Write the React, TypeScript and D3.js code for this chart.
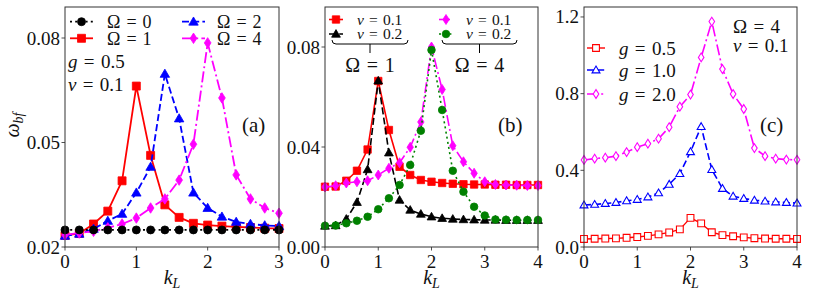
import React, { useRef, useEffect } from "react";
import * as d3 from "d3";

// ---- data ----
const kA = [0, 0.2, 0.4, 0.6, 0.8, 1.0, 1.2, 1.4, 1.6, 1.8, 2.0, 2.2, 2.4, 2.6, 2.8, 3.0];
const kBC = [0, 0.2, 0.4, 0.6, 0.8, 1.0, 1.2, 1.4, 1.6, 1.8, 2.0, 2.2, 2.4, 2.6, 2.8, 3.0, 3.2, 3.4, 3.6, 3.8, 4.0];

// panel (a): g = 0.5, v = 0.1
const omega0A = [0.0249, 0.0249, 0.0249, 0.0249, 0.0249, 0.0249, 0.0249, 0.0249, 0.0249, 0.0249, 0.0249, 0.0249, 0.0249, 0.0249, 0.0249, 0.0249];
const omega1A = [0.0233, 0.0239, 0.0266, 0.0303, 0.039, 0.0662, 0.0463, 0.0321, 0.0285, 0.0268, 0.0263, 0.026, 0.0258, 0.0256, 0.0254, 0.0253];
const omega2A = [0.0232, 0.0238, 0.0252, 0.0275, 0.0295, 0.0356, 0.043, 0.0697, 0.0569, 0.0356, 0.0312, 0.0287, 0.0272, 0.0266, 0.0262, 0.026];
const omega4A = [0.0235, 0.024, 0.0245, 0.0255, 0.0266, 0.0283, 0.0312, 0.0338, 0.0392, 0.0495, 0.0786, 0.0628, 0.0407, 0.0338, 0.0312, 0.0297];

// panel (b)
const om1v01B = [0.0241, 0.0242, 0.0265, 0.0305, 0.039, 0.0664, 0.0468, 0.0321, 0.0288, 0.0268, 0.0261, 0.0256, 0.0253, 0.0251, 0.025, 0.025, 0.0249, 0.0249, 0.0248, 0.0248, 0.0248];
const om1v02B = [0.0084, 0.0086, 0.0112, 0.0179, 0.031, 0.0665, 0.0377, 0.0188, 0.0148, 0.0132, 0.0121, 0.0115, 0.0112, 0.011, 0.0109, 0.0108, 0.0108, 0.0107, 0.0107, 0.0107, 0.0107];
const om4v01B = [0.024, 0.0245, 0.0256, 0.0261, 0.0265, 0.0288, 0.0315, 0.0337, 0.0399, 0.05, 0.08, 0.063, 0.0405, 0.0341, 0.0295, 0.0261, 0.025, 0.0248, 0.0247, 0.0246, 0.0246];
const om4v02B = [0.0085, 0.0086, 0.0095, 0.0105, 0.0121, 0.0151, 0.0195, 0.0248, 0.0328, 0.0465, 0.0788, 0.0548, 0.0305, 0.0221, 0.0161, 0.0126, 0.011, 0.0109, 0.0108, 0.0108, 0.0108];

// panel (c): Omega = 4, v = 0.1
const g05C = [0.042, 0.043, 0.044, 0.045, 0.048, 0.052, 0.058, 0.066, 0.076, 0.092, 0.152, 0.123, 0.077, 0.062, 0.056, 0.05, 0.046, 0.044, 0.043, 0.043, 0.042];
const g10C = [0.219, 0.222, 0.227, 0.232, 0.241, 0.248, 0.261, 0.282, 0.327, 0.383, 0.497, 0.628, 0.404, 0.305, 0.265, 0.253, 0.244, 0.239, 0.235, 0.232, 0.229];
const g20C = [0.454, 0.461, 0.466, 0.474, 0.495, 0.521, 0.539, 0.565, 0.625, 0.732, 0.795, 0.989, 1.176, 0.928, 0.798, 0.72, 0.516, 0.474, 0.461, 0.456, 0.455];

const ticksA = [0.02, 0.05, 0.08];
const ticksB = [0.0, 0.04, 0.08];
const ticksC = [0.0, 0.4, 0.8, 1.2];

const FONT = "'Liberation Serif', 'DejaVu Serif', serif";
const DASHED = "7,3.2";
const DASHDOT = "11,3.2,2,3.2";
const DOTTED = "2,3.2";

function markerPath(shape, s) {
  if (shape === "circle") return d3.symbol().type(d3.symbolCircle).size(Math.PI * s * s)();
  if (shape === "square") return `M${-s},${-s}h${2 * s}v${2 * s}h${-2 * s}Z`;
  if (shape === "triangle") return `M0,${-s * 1.1}L${s * 1.1},${s * 0.8}L${-s * 1.1},${s * 0.8}Z`;
  // thin diamond
  return `M0,${-s * 1.25}L${s * 0.8},0L0,${s * 1.25}L${-s * 0.8},0Z`;
}

function mathText(parent, x, y, parts, size, anchor = "start") {
  const t = parent
    .append("text")
    .attr("x", x)
    .attr("y", y)
    .attr("font-family", FONT)
    .attr("font-size", size)
    .attr("text-anchor", anchor)
    .attr("fill", "#111");
  let down = false;
  parts.forEach((p) => {
    const ts = t.append("tspan").text(p.t);
    if (p.it) ts.attr("font-style", "italic");
    if (p.sub) {
      ts.attr("font-size", size * 0.7);
      if (!down) ts.attr("dy", size * 0.18);
      down = true;
    } else if (down) {
      ts.attr("dy", -size * 0.18);
      down = false;
    }
  });
  return t;
}

const eq = (name, italic, val) => [
  { t: name, it: italic },
  { t: "\u2004=\u2004" },
  { t: val },
];

function drawPanel(svg, box, xDomain, yDomain, xTicks, yTicks, yFmt) {
  const x = d3.scaleLinear().domain(xDomain).range([box.left, box.right]);
  const y = d3.scaleLinear().domain(yDomain).range([box.bottom, box.top]);
  const g = svg.append("g");

  g.append("rect")
    .attr("x", box.left)
    .attr("y", box.top)
    .attr("width", box.right - box.left)
    .attr("height", box.bottom - box.top)
    .attr("fill", "white")
    .attr("stroke", "none");

  // x ticks
  xTicks.forEach((t) => {
    g.append("line")
      .attr("x1", x(t))
      .attr("x2", x(t))
      .attr("y1", box.bottom)
      .attr("y2", box.bottom + 3.5)
      .attr("stroke", "#222")
      .attr("stroke-width", 0.8);
    g.append("text")
      .attr("x", x(t))
      .attr("y", box.bottom + 21)
      .attr("text-anchor", "middle")
      .attr("font-family", FONT)
      .attr("font-size", 19)
      .attr("fill", "#111")
      .text(t);
  });
  yTicks.forEach((t) => {
    g.append("line")
      .attr("x1", box.left - 3.5)
      .attr("x2", box.left)
      .attr("y1", y(t))
      .attr("y2", y(t))
      .attr("stroke", "#222")
      .attr("stroke-width", 0.8);
    g.append("text")
      .attr("x", box.left - 5)
      .attr("y", y(t) + 6.5)
      .attr("text-anchor", "end")
      .attr("font-family", FONT)
      .attr("font-size", 19)
      .attr("fill", "#111")
      .text(yFmt(t));
  });

  mathText(
    g,
    (box.left + box.right) / 2,
    box.bottom + 37,
    [{ t: "k", it: true }, { t: "L", it: true, sub: true }],
    20,
    "middle"
  );

  const plot = svg.append("g");
  const frame = () =>
    svg
      .append("rect")
      .attr("x", box.left)
      .attr("y", box.top)
      .attr("width", box.right - box.left)
      .attr("height", box.bottom - box.top)
      .attr("fill", "none")
      .attr("stroke", "#333")
      .attr("stroke-width", 1);
  return { x, y, plot, frame };
}

function drawSeries(p, xs, ys, st) {
  const line = d3
    .line()
    .x((d, i) => p.x(xs[i]))
    .y((d) => p.y(d));
  p.plot
    .append("path")
    .attr("d", line(ys))
    .attr("fill", "none")
    .attr("stroke", st.color)
    .attr("stroke-width", st.lw)
    .attr("stroke-dasharray", st.dash)
    .attr("stroke-linejoin", "round");
  p.plot
    .selectAll(null)
    .data(ys)
    .enter()
    .append("path")
    .attr("transform", (d, i) => `translate(${p.x(xs[i])},${p.y(d)})`)
    .attr("d", markerPath(st.shape, st.size))
    .attr("fill", st.open ? "white" : st.color)
    .attr("stroke", st.color)
    .attr("stroke-width", st.open ? 1.1 : 0.8);
}

function legendHandle(svg, x1, x2, yc, st) {
  svg
    .append("line")
    .attr("x1", x1)
    .attr("x2", x2)
    .attr("y1", yc)
    .attr("y2", yc)
    .attr("stroke", st.color)
    .attr("stroke-width", st.lw)
    .attr("stroke-dasharray", st.dash);
  svg
    .append("path")
    .attr("transform", `translate(${(x1 + x2) / 2},${yc})`)
    .attr("d", markerPath(st.shape, st.size))
    .attr("fill", st.open ? "white" : st.color)
    .attr("stroke", st.color)
    .attr("stroke-width", st.open ? 1.1 : 0.8);
}

function App() {
  const svgRef = useRef(null);

  useEffect(() => {
    const svg = d3.select(svgRef.current);
    svg.selectAll("*").remove();

    // ---------- panel (a) ----------
    const pa = drawPanel(
      svg,
      { left: 65, right: 279, top: 7, bottom: 247 },
      [0, 3],
      [0.02, 0.0889],
      [0, 1, 2, 3],
      ticksA,
      d3.format(".2f")
    );
    const sA0 = { color: "black", lw: 1.8, dash: DOTTED, shape: "circle", size: 4 };
    const sA1 = { color: "#ff0000", lw: 1.8, dash: null, shape: "square", size: 4 };
    const sA2 = { color: "#0000ff", lw: 1.8, dash: DASHED, shape: "triangle", size: 4.3 };
    const sA4 = { color: "#ff00ff", lw: 1.8, dash: DASHDOT, shape: "diamond", size: 4.2 };
    drawSeries(pa, kA, omega1A, sA1);
    drawSeries(pa, kA, omega2A, sA2);
    drawSeries(pa, kA, omega4A, sA4);
    drawSeries(pa, kA, omega0A, sA0);
    pa.frame();

    legendHandle(svg, 70, 93, 21.7, sA0);
    legendHandle(svg, 70, 93, 38.3, sA1);
    legendHandle(svg, 182, 205, 21.7, sA2);
    legendHandle(svg, 182, 205, 38.3, sA4);
    mathText(svg, 107, 28, eq("Ω", false, "0"), 18);
    mathText(svg, 107, 44.5, eq("Ω", false, "1"), 18);
    mathText(svg, 217, 28, eq("Ω", false, "2"), 18);
    mathText(svg, 217, 44.5, eq("Ω", false, "4"), 18);
    mathText(svg, 68, 68, eq("g", true, "0.5"), 19);
    mathText(svg, 68, 90.5, eq("v", true, "0.1"), 19);
    mathText(svg, 242, 132, [{ t: "(a)" }], 21);

    // y label
    mathText(
      svg.append("g").attr("transform", "translate(19,125) rotate(-90)"),
      0,
      0,
      [{ t: "ω", it: true }, { t: "bf", it: true, sub: true }],
      20,
      "middle"
    );

    // ---------- panel (b) ----------
    const pb = drawPanel(
      svg,
      { left: 325, right: 538, top: 7, bottom: 247 },
      [0, 4],
      [0, 0.096],
      [0, 1, 2, 3, 4],
      ticksB,
      d3.format(".2f")
    );
    const sB1 = { color: "#ff0000", lw: 1.6, dash: null, shape: "square", size: 3.7 };
    const sB2 = { color: "black", lw: 1.6, dash: DASHED, shape: "triangle", size: 4 };
    const sB3 = { color: "#ff00ff", lw: 1.6, dash: DASHDOT, shape: "diamond", size: 4 };
    const sB4 = { color: "#008000", lw: 1.6, dash: DOTTED, shape: "circle", size: 3.8 };
    drawSeries(pb, kBC, om1v01B, sB1);
    drawSeries(pb, kBC, om1v02B, sB2);
    drawSeries(pb, kBC, om4v01B, sB3);
    drawSeries(pb, kBC, om4v02B, sB4);
    pb.frame();

    legendHandle(svg, 329, 343, 19.5, sB1);
    legendHandle(svg, 329, 343, 34, sB2);
    legendHandle(svg, 439, 453, 19.5, sB3);
    legendHandle(svg, 439, 453, 34, sB4);
    mathText(svg, 357, 24.5, eq("v", true, "0.1"), 15.5);
    mathText(svg, 357, 39, eq("v", true, "0.2"), 15.5);
    mathText(svg, 466, 24.5, eq("v", true, "0.1"), 15.5);
    mathText(svg, 466, 39, eq("v", true, "0.2"), 15.5);
    [
      [332, 408, "1"],
      [442, 517, "4"],
    ].forEach(([a, b, lab]) => {
      const c = (a + b) / 2;
      svg
        .append("path")
        .attr("d", `M${a},40Q${a},44 ${a + 4},44L${b - 4},44Q${b},44 ${b},40M${c},44L${c},53`)
        .attr("fill", "none")
        .attr("stroke", "black")
        .attr("stroke-width", 1);
      mathText(svg, c, 72, eq("Ω", false, lab), 20, "middle");
    });
    mathText(svg, 498, 132, [{ t: "(b)" }], 21);

    // ---------- panel (c) ----------
    const pc = drawPanel(
      svg,
      { left: 584, right: 797, top: 7, bottom: 247 },
      [0, 4],
      [0, 1.252],
      [0, 1, 2, 3, 4],
      ticksC,
      d3.format(".1f")
    );
    const sC1 = { color: "#ff0000", lw: 1.4, dash: null, shape: "square", size: 3.4, open: true };
    const sC2 = { color: "#0000ff", lw: 1.6, dash: DASHED, shape: "triangle", size: 3.6, open: true };
    const sC3 = { color: "#ff00ff", lw: 1.6, dash: DASHDOT, shape: "diamond", size: 3.5, open: true };
    drawSeries(pc, kBC, g05C, sC1);
    drawSeries(pc, kBC, g10C, sC2);
    drawSeries(pc, kBC, g20C, sC3);
    pc.frame();

    legendHandle(svg, 587, 605, 48, sC1);
    legendHandle(svg, 587, 605, 70, sC2);
    legendHandle(svg, 587, 605, 94, sC3);
    mathText(svg, 619, 55, eq("g", true, "0.5"), 19);
    mathText(svg, 619, 77, eq("g", true, "1.0"), 19);
    mathText(svg, 619, 100.5, eq("g", true, "2.0"), 19);
    mathText(svg, 733, 33, eq("Ω", false, "4"), 19);
    mathText(svg, 733, 52, eq("v", true, "0.1"), 19);
    mathText(svg, 760, 132, [{ t: "(c)" }], 21);
  }, []);

  return (
    <svg
      ref={svgRef}
      width={822}
      height={292}
      style={{ position: "absolute", left: 0, top: 0, background: "white" }}
    />
  );
}

export default App;
